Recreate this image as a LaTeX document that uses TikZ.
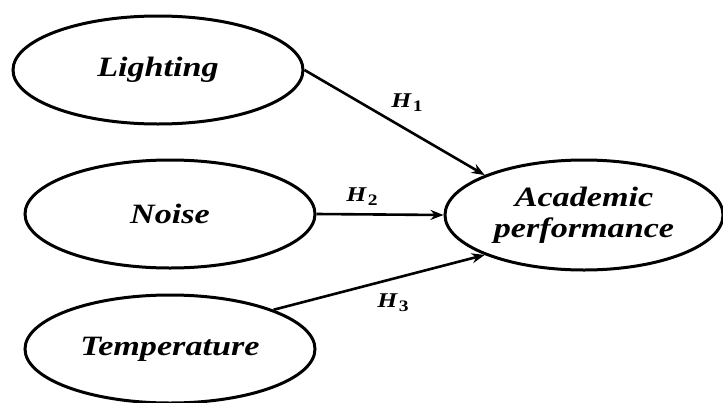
\documentclass[tikz,border=0pt]{standalone}
\usepackage{fontspec}
\setmainfont{Liberation Serif}
\newfontfamily\labelfont[FakeStretch=1.22]{Liberation Serif}
\usetikzlibrary{shapes.geometric,arrows.meta}
\tikzset{
  construct/.style={ellipse, draw, line width=3pt, inner sep=0pt,
    minimum width=290pt, minimum height=108pt, align=center,
    font=\labelfont\fontsize{28}{31}\selectfont\bfseries\itshape},
  path link/.style={line width=2.6pt, -{Stealth[length=13pt,width=10pt]}},
  hyp/.style={font=\labelfont\fontsize{21}{22}\selectfont\bfseries, inner sep=0pt}
}
\newcommand{\hypname}[1]{\textit{H}\kern1pt\raisebox{-4pt}{\fontsize{16}{17}\selectfont #1}}
\begin{document}
\begin{tikzpicture}[x=1pt,y=-1pt]
  \useasboundingbox (0,0) rectangle (723,402);
  % predictor constructs
  \node[construct] (light) at (158,70)  {Lighting};
  \node[construct] (noise) at (170,214) {Noise};
  \node[construct] (temp)  at (170,349) {Temperature};
  % outcome construct
  \node[construct, minimum width=278pt, minimum height=110pt] (acad) at (584,215)
    {Academic\\[0pt]performance};
  % hypothesised effects
  \draw[path link] (light.east) -- (acad.north west);
  \draw[path link] (noise.east) -- (acad.west);
  \draw[path link] (temp.north east) -- (acad.south west);
  \node[hyp] (h1) at (407,103) {\hypname{1}};
  \node[hyp] (h2) at (362,197) {\hypname{2}};
  \node[hyp] (h3) at (393,303) {\hypname{3}};
\end{tikzpicture}
\end{document}
